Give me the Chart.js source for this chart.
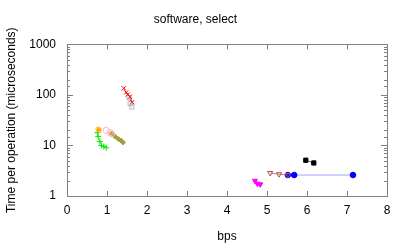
<!DOCTYPE html>
<html><head><meta charset="utf-8">
<script src="https://cdn.jsdelivr.net/npm/chart.js@4/dist/chart.umd.min.js"></script>
<style>html,body{margin:0;padding:0;background:#fff}#wrap{width:407px;height:244px}</style>
</head><body><div id="wrap"><canvas id="c" width="407" height="244"></canvas></div>
<script>
const xTicks = [0,1,2,3,4,5,6,7,8];
const yTicks = [1,10,100,1000];
const redX = [1.42,1.48,1.52,1.57,1.63];
const redY = [135,112,102,92,72];
const grayX = [1.55,1.58,1.62];
const grayY = [88,68,58];
const orangeX = [0.78,0.80];
const orangeY = [21,20];
const greenX = [0.76,0.78,0.82,0.86,0.92,0.98];
const greenY = [18,15,12,10,9.5,9];
const pinkX = [0.98,1.08,1.12];
const pinkY = [20,18,17];
const khakiX = [1.12,1.20,1.28,1.35,1.40];
const khakiY = [17,15,13.5,12.5,11.5];
const magentaX = [4.70,4.76,4.83];
const magentaY = [2.0,1.75,1.7];
const brownX = [5.08,5.30,5.52];
const brownY = [2.85,2.7,2.6];
const blueX = [5.52,5.68,7.15];
const blueY = [2.6,2.6,2.6];
const blackX = [5.97,6.17];
const blackY = [5.1,4.5];

function pts(xs, ys){ return xs.map((x,i)=>({x:x,y:ys[i]})); }
function ds(xs, ys, color, line, style, fill, rot, r){
  return {data:pts(xs,ys), showLine:true, borderColor:line, borderWidth:1,
    pointStyle:style, pointRotation:rot||0, pointRadius:r||3,
    pointBorderColor:color, pointBackgroundColor: fill ? color : 'rgba(0,0,0,0)',
    pointBorderWidth:1};
}
const F = "'Liberation Sans', Arial, sans-serif";
const frame = {
  id:'frame',
  afterDraw(chart){
    const {ctx, chartArea:a, scales} = chart;
    ctx.save();
    ctx.strokeStyle = '#808080'; ctx.lineWidth = 1;
    ctx.strokeRect(Math.round(a.left)+0.5, Math.round(a.top)+0.5, Math.round(a.right-a.left), Math.round(a.bottom-a.top));
    ctx.beginPath();
    xTicks.forEach(v=>{
      const px = Math.round(scales.x.getPixelForValue(v))+0.5;
      ctx.moveTo(px, a.bottom); ctx.lineTo(px, a.bottom-5);
      ctx.moveTo(px, a.top); ctx.lineTo(px, a.top+5);
    });
    scales.y.ticks.forEach(t=>{
      const py = Math.round(scales.y.getPixelForValue(t.value))+0.5;
      const major = yTicks.includes(t.value);
      const L = major ? 6 : 3;
      ctx.moveTo(a.left, py); ctx.lineTo(a.left+L, py);
      ctx.moveTo(a.right, py); ctx.lineTo(a.right-L, py);
    });
    ctx.stroke();
    ctx.fillStyle = '#000';
    ctx.font = '12px ' + F;
    ctx.textAlign = 'center';
    ctx.textBaseline = 'top';
    xTicks.forEach(v=>{
      ctx.fillText(String(v), scales.x.getPixelForValue(v), a.bottom + 9);
    });
    ctx.restore();
  }
};
new Chart(document.getElementById('c'), {
  type:'scatter',
  data:{datasets:[
    ds(redX, redY, '#ff0000', 'rgba(255,0,0,0.6)', 'crossRot', false, 0, 3),
    ds(grayX, grayY, '#b8b8b8', 'rgba(192,192,192,0.6)', 'rect', false, 0, 3),
    ds(orangeX, orangeY, '#ffa500', 'rgba(255,165,0,0.6)', 'star', false, 0, 3),
    ds(greenX, greenY, '#00ee00', 'rgba(0,230,0,0.6)', 'cross', false, 0, 3),
    ds(pinkX, pinkY, '#ffb6c1', 'rgba(255,182,193,0.6)', 'circle', false, 0, 3),
    ds(khakiX, khakiY, '#a0a040', 'rgba(160,160,64,0.6)', 'rectRot', true, 0, 2.5),
    ds(magentaX, magentaY, '#ff00ff', 'rgba(255,0,255,0.6)', 'triangle', true, 180, 3),
    ds(brownX, brownY, '#b05050', 'rgba(176,80,80,0.7)', 'triangle', false, 180, 3),
    ds(blueX, blueY, '#0000ff', 'rgba(100,100,255,0.6)', 'circle', true, 0, 2.8),
    ds(blackX, blackY, '#000000', 'rgba(0,0,0,0.6)', 'rect', true, 0, 3)
  ]},
  options:{
    responsive:false, animation:false, devicePixelRatio:1,
    layout:{padding:{left:4, right:20, top:0, bottom:0}},
    plugins:{
      legend:{display:false}, tooltip:{enabled:false},
      title:{display:true, text:'software, select', color:'#000', font:{family:F, size:12, weight:'normal'}, padding:{top:12, bottom:18}}
    },
    scales:{
      x:{type:'linear', min:0, max:8,
        afterFit(s){ s.height = 48; },
        grid:{display:false, drawTicks:false}, border:{display:false},
        ticks:{display:false, stepSize:1},
        title:{display:true, text:'bps', color:'#000', font:{family:F, size:12}, padding:{top:8, bottom:0}}
      },
      y:{type:'logarithmic', min:1, max:1000,
        afterFit(s){ s.width = 63; },
        grid:{display:false, drawTicks:false}, border:{display:false},
        ticks:{color:'#000', font:{family:F, size:12}, padding:11, autoSkip:false,
          callback:(v)=> yTicks.includes(v) ? String(v) : ''},
        title:{display:true, text:'Time per operation (microseconds)', color:'#000', font:{family:F, size:12}, padding:{top:0, bottom:4}}
      }
    }
  },
  plugins:[frame]
});
</script></body></html>
